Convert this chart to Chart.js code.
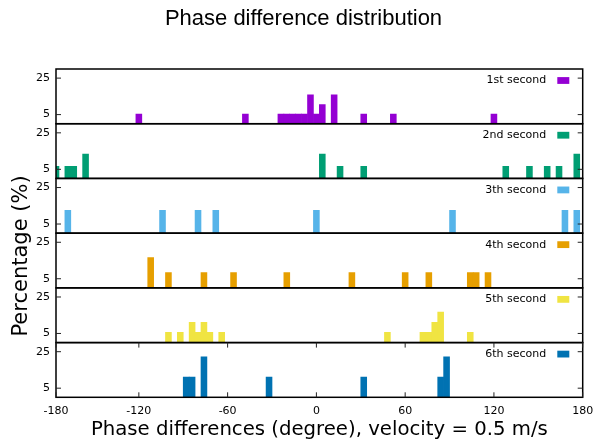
<!DOCTYPE html>
<html>
<head>
<meta charset="utf-8">
<title>Phase difference distribution</title>
<script src="https://cdn.jsdelivr.net/npm/chart.js@4.4.1/dist/chart.umd.min.js"></script>
<style>
  html, body { margin: 0; padding: 0; background: #fff; }
  #chart { display: block; }
</style>
</head>
<body>
<canvas id="chart" width="594" height="447"></canvas>
<script>
// bin centres in degrees (4 degree bins), heights in percent
const seriesLabels = ['1st second', '2nd second', '3th second', '4th second', '5th second', '6th second'];
const seriesColors = ['#9400d3', '#009e73', '#56b4e9', '#e69f00', '#f0e442', '#0072b2'];

const bins1 = [-120, -48, -24, -20, -16, -12, -8, -4, 0, 4, 12, 32, 52, 120];
const pct1 = [5.26, 5.26, 5.26, 5.26, 5.26, 5.26, 5.26, 15.79, 5.26, 10.53, 15.79, 5.26, 5.26, 5.26];

const bins2 = [-176, -168, -164, -156, 4, 16, 32, 128, 144, 156, 164, 176];
const pct2 = [6.67, 6.67, 6.67, 13.33, 13.33, 6.67, 6.67, 6.67, 6.67, 6.67, 6.67, 13.33];

const bins3 = [-168, -104, -80, -68, 0, 92, 168, 176];
const pct3 = [12.5, 12.5, 12.5, 12.5, 12.5, 12.5, 12.5, 12.5];

const bins4 = [-112, -100, -76, -56, -20, 24, 60, 76, 104, 108, 116];
const pct4 = [16.67, 8.33, 8.33, 8.33, 8.33, 8.33, 8.33, 8.33, 8.33, 8.33, 8.33];

const bins5 = [-100, -92, -84, -80, -76, -72, -64, 48, 72, 76, 80, 84, 104];
const pct5 = [5.56, 5.56, 11.11, 5.56, 11.11, 5.56, 5.56, 5.56, 5.56, 5.56, 11.11, 16.67, 5.56];

const bins6 = [-88, -84, -76, -32, 32, 84, 88];
const pct6 = [11.11, 11.11, 22.22, 11.11, 11.11, 11.11, 22.22];

const xTickValues = [-176, -120, -60, 0, 60, 120, 180];
const xTickLabels = ['-180', '-120', '-60', '0', '60', '120', '180'];
const yTickValues = [5, 25];

const allBins = [bins1, bins2, bins3, bins4, bins5, bins6];
const allPct = [pct1, pct2, pct3, pct4, pct5, pct6];

Chart.defaults.font.family = '"DejaVu Sans"';
Chart.defaults.color = '#000';

const datasets = allBins.map((bins, i) => ({
  label: seriesLabels[i],
  data: bins.map((b, j) => ({ x: b, y: allPct[i][j] })),
  yAxisID: 'y' + (i + 1),
  backgroundColor: seriesColors[i],
  borderWidth: 0,
  grouped: false,
  barPercentage: 1,
  categoryPercentage: 1,
  clip: 0
}));

function panelAxis() {
  return {
    type: 'linear',
    position: 'left',
    stack: 'panels',
    stackWeight: 1,
    min: 0,
    max: 30,
    afterBuildTicks: s => { s.ticks = yTickValues.map(v => ({ value: v })); },
    afterFit: s => { s.width = 56; },
    grid: { display: false, drawTicks: false },
    border: { display: false },
    ticks: { color: '#000', padding: 6, font: { size: 11 } }
  };
}

const scales = {
  x: {
    type: 'linear',
    position: 'bottom',
    offset: false,
    min: -176,
    max: 180,
    afterBuildTicks: s => { s.ticks = xTickValues.map(v => ({ value: v })); },
    afterFit: s => { s.height = 49.7; },
    // invisible tick marks only push the labels down (inward ticks are drawn below)
    grid: { display: true, drawOnChartArea: false, drawTicks: true, tickLength: 7, color: 'rgba(0,0,0,0)', offset: false },
    border: { display: false },
    ticks: {
      color: '#000',
      padding: 0,
      maxRotation: 0,
      font: { size: 11 },
      callback: v => xTickLabels[xTickValues.indexOf(v)]
    },
    title: {
      display: true,
      text: 'Phase differences (degree), velocity = 0.5 m/s',
      font: { size: 19.7 },
      padding: { top: 0, bottom: 5 }
    }
  }
};
// stacked left axes are laid out bottom-up, so add the last panel first
for (let i = datasets.length - 1; i >= 0; i--) scales[datasets[i].yAxisID] = panelAxis();

// title, frames, inward ticks, per-panel keys and the shared y label
const panelDecor = {
  id: 'panelDecor',
  afterDatasetsDraw(chart) {
    const { ctx, chartArea: area } = chart;
    const ds = chart.data.datasets;
    ctx.save();
    ds.forEach(d => {
      const ys = chart.scales[d.yAxisID];
      ctx.strokeStyle = '#000';
      ctx.lineWidth = 1.5;
      ctx.strokeRect(area.left, ys.top, area.right - area.left, ys.bottom - ys.top);
      ctx.lineWidth = 1;
      ctx.strokeStyle = '#222';
      ys.ticks.forEach(t => {
        const py = ys.getPixelForValue(t.value);
        ctx.beginPath();
        ctx.moveTo(area.left, py); ctx.lineTo(area.left + 5, py);
        ctx.moveTo(area.right, py); ctx.lineTo(area.right - 5, py);
        ctx.stroke();
      });
      const ky = ys.top + 11.5;
      ctx.fillStyle = '#000';
      ctx.font = '11px "DejaVu Sans"';
      ctx.textAlign = 'right';
      ctx.textBaseline = 'middle';
      ctx.fillText(d.label, area.right - 36.5, ky);
      ctx.fillStyle = d.backgroundColor;
      ctx.fillRect(area.right - 25.4, ky - 3.4, 12, 6.8);
    });

    const xs = chart.scales.x;
    const bottomPanel = chart.scales[ds[ds.length - 1].yAxisID];
    ctx.strokeStyle = '#222';
    ctx.lineWidth = 1;
    xs.ticks.forEach(t => {
      const px = xs.getPixelForValue(t.value);
      ctx.beginPath();
      ctx.moveTo(px, bottomPanel.bottom); ctx.lineTo(px, bottomPanel.bottom - 5);
      ctx.moveTo(px, bottomPanel.top); ctx.lineTo(px, bottomPanel.top + 5);
      ctx.stroke();
    });

    ctx.fillStyle = '#000';
    ctx.textAlign = 'center';
    ctx.textBaseline = 'middle';
    ctx.font = '22px "Liberation Sans"';
    ctx.fillText('Phase difference distribution', 303.5, 19);

    ctx.translate(22, 256);
    ctx.rotate(-Math.PI / 2);
    ctx.font = '21px "DejaVu Sans"';
    ctx.fillText('Percentage (%)', 0, 0);
    ctx.restore();
  }
};

new Chart(document.getElementById('chart'), {
  type: 'bar',
  data: { datasets },
  options: {
    responsive: false,
    animation: false,
    devicePixelRatio: 1,
    events: [],
    layout: { padding: { left: 0, right: 11.3, top: 69, bottom: 0 } },
    scales,
    plugins: {
      legend: { display: false },
      tooltip: { enabled: false },
      title: { display: false }
    }
  },
  plugins: [panelDecor]
});
</script>
</body>
</html>
